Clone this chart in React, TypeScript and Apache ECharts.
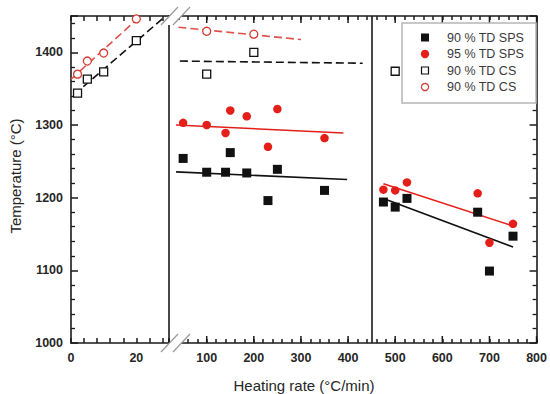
import React, { useEffect, useRef } from 'react';
import * as echarts from 'echarts';

const FONT = '"Liberation Sans", Arial, Helvetica, sans-serif';
const RED = '#e41f1a';
const RED_DASH = '#e0504a';
const RED_OPEN = '#d23a32';
const BLACK = '#111111';
const AX = '#1a1a1a';

// ---- tick labels ----
const leftXLabels = [0, 20];
const rightXLabels = [100, 200, 300, 400, 500, 600, 700, 800];
const yLabels = [1000, 1100, 1200, 1300, 1400];

// ---- left segment (0-30 °C/min) ----
const csLeftX = [2, 5, 10, 20];
const cs90SqLeft = [1344, 1363, 1373, 1416];
const cs90CircLeft = [1370, 1388, 1399, 1446];
const fitLeftBlackDash = [[1, 1342], [29, 1450]];
const fitLeftRedDash = [[0, 1363], [21.3, 1450]];

// ---- middle segment ----
const midX = [50, 100, 140, 150, 185, 230, 250, 350];
const sps90Mid = [1254, 1235, 1235, 1262, 1234, 1196, 1239, 1210];
const sps95Mid = [1303, 1300, 1289, 1320, 1312, 1270, 1322, 1282];
const csMidSqX = [100, 200, 500];
const cs90SqMid = [1370, 1400, 1374];
const csMidCircX = [100, 200];
const cs90CircMid = [1429, 1425];
const fitMidRed = [[35, 1300], [390, 1289]];
const fitMidBlack = [[35, 1235.5], [398, 1225]];
const fitMidBlackDash = [[43, 1388], [431, 1385]];
const fitMidRedDash = [[40, 1434.5], [300, 1417.6]];

// ---- right segment ----
const rightX = [475, 500, 525, 675, 700, 750];
const sps90Right = [1194, 1187, 1199, 1180, 1099, 1147];
const sps95Right = [1211, 1210, 1221, 1206, 1138, 1164];
const fitRightRed = [[475, 1219], [750, 1161]];
const fitRightBlack = [[475, 1199], [750, 1132]];
const dividerX = 450;

const legendItems = ['90 % TD SPS', '95 % TD SPS', '90 % TD CS', '90 % TD CS'];

const pts = (xs: number[], ys: number[]) => xs.map((x, i) => [x, ys[i]]);

function mkAxis(opts: any) {
  const { gridIndex, position, min, max, interval, len, labels, minor } = opts;
  return {
    type: 'value',
    gridIndex,
    position,
    min,
    max,
    interval,
    axisLine: { show: true, onZero: false, lineStyle: { color: AX, width: 1.6 } },
    axisTick: {
      show: !!len,
      inside: true,
      length: len || 0,
      lineStyle: { color: AX, width: 1.5 },
    },
    minorTick: minor
      ? { show: true, splitNumber: 5, length: 4, lineStyle: { color: AX, width: 1.3 } }
      : { show: false },
    axisLabel: labels
      ? {
          show: true,
          customValues: labels,
          formatter: (v: number) => String(v),
          margin: 8,
          color: '#262626',
          fontFamily: FONT,
          fontWeight: 'bold',
          fontSize: 12.5,
        }
      : { show: false },
    splitLine: { show: false },
    minorSplitLine: { show: false },
  };
}

export default function App() {
  const ref = useRef<HTMLDivElement>(null);
  useEffect(() => {
    if (!ref.current) return;
    const chart = echarts.init(ref.current, undefined, { renderer: 'svg' });

    const xAxis = [
      mkAxis({ gridIndex: 0, position: 'bottom', min: 0, max: 30, interval: 4, len: 5, labels: leftXLabels }),
      mkAxis({ gridIndex: 0, position: 'top', min: 0, max: 30, interval: 4, len: 5 }),
      mkAxis({ gridIndex: 1, position: 'bottom', min: 20, max: 800, interval: 20, len: 4, labels: rightXLabels }),
      mkAxis({ gridIndex: 1, position: 'top', min: 20, max: 800, interval: 20, len: 4 }),
    ];
    const yAxis = [
      mkAxis({ gridIndex: 0, position: 'left', min: 1000, max: 1450, interval: 100, len: 7, labels: yLabels, minor: true }),
      mkAxis({ gridIndex: 0, position: 'right', min: 1000, max: 1450 }),
      mkAxis({ gridIndex: 1, position: 'right', min: 1000, max: 1450, interval: 100, len: 7, minor: true }),
    ];

    const L = { xAxisIndex: 0, yAxisIndex: 0 };
    const R = { xAxisIndex: 2, yAxisIndex: 2 };

    const fit = (axes: any, data: number[][], color: string, dashed: boolean) => ({
      type: 'line', ...axes, data, symbol: 'none', silent: true,
      lineStyle: { color, width: 1.6, type: dashed ? [8, 4] : 'solid' }, z: 2,
    });
    const filledSq = (axes: any, data: number[][]) => ({
      type: 'scatter', ...axes, data, symbol: 'rect', symbolSize: 9,
      itemStyle: { color: BLACK, opacity: 1 }, z: 5,
    });
    const filledCirc = (axes: any, data: number[][]) => ({
      type: 'scatter', ...axes, data, symbol: 'circle', symbolSize: 8.5,
      itemStyle: { color: RED, opacity: 1 }, z: 5,
    });
    const openSq = (axes: any, data: number[][]) => ({
      type: 'scatter', ...axes, data, symbol: 'rect', symbolSize: 8,
      itemStyle: { color: '#ffffff', borderColor: BLACK, borderWidth: 1.3, opacity: 1 }, z: 5,
    });
    const openCirc = (axes: any, data: number[][]) => ({
      type: 'scatter', ...axes, data, symbol: 'circle', symbolSize: 8,
      itemStyle: { color: '#ffffff', borderColor: RED_OPEN, borderWidth: 1.3, opacity: 1 }, z: 5,
    });

    // longer major ticks (every 100) of the right segment, top and bottom
    const majorTicks = {
      type: 'custom', ...R, silent: true, clip: false, z: 3,
      data: rightXLabels.map((v) => [v, 1000]),
      renderItem: (_p: any, api: any) => {
        const v = api.value(0);
        const b = api.coord([v, 1000]);
        const t = api.coord([v, 1450]);
        const st = { stroke: AX, lineWidth: 1.5 };
        return {
          type: 'group',
          children: [
            { type: 'line', shape: { x1: b[0], y1: b[1], x2: b[0], y2: b[1] - 7 }, style: st },
            { type: 'line', shape: { x1: t[0], y1: t[1], x2: t[0], y2: t[1] + 7 }, style: st },
          ],
        };
      },
    };

    const series: any[] = [
      fit(L, fitLeftBlackDash, BLACK, true),
      fit(L, fitLeftRedDash, RED_DASH, true),
      openSq(L, pts(csLeftX, cs90SqLeft)),
      openCirc(L, pts(csLeftX, cs90CircLeft)),
      fit(R, fitMidRed, RED, false),
      fit(R, fitMidBlack, BLACK, false),
      fit(R, fitMidBlackDash, BLACK, true),
      fit(R, fitMidRedDash, RED_DASH, true),
      fit(R, fitRightRed, RED, false),
      fit(R, fitRightBlack, BLACK, false),
      {
        type: 'line', ...R, data: [], silent: true,
        markLine: {
          silent: true, symbol: 'none', animation: false, label: { show: false },
          lineStyle: { color: AX, width: 1.6, type: 'solid' },
          data: [{ xAxis: dividerX }],
        },
      },
      majorTicks,
      filledSq(R, pts(midX, sps90Mid).concat(pts(rightX, sps90Right))),
      filledCirc(R, pts(midX, sps95Mid).concat(pts(rightX, sps95Right))),
      openSq(R, pts(csMidSqX, cs90SqMid)),
      openCirc(R, pts(csMidCircX, cs90CircMid)),
    ];

    const breakMark = (yc: number) => {
      const x0 = 161;
      return [
        { type: 'polygon', z: 100, silent: true,
          shape: { points: [[x0, yc + 9], [x0 + 17, yc - 9], [x0 + 29, yc - 9], [x0 + 12, yc + 9]] },
          style: { fill: '#ffffff' } },
        { type: 'line', z: 101, silent: true,
          shape: { x1: x0, y1: yc + 9, x2: x0 + 17, y2: yc - 9 },
          style: { stroke: '#9a9a9a', lineWidth: 1.2 } },
        { type: 'line', z: 101, silent: true,
          shape: { x1: x0 + 12, y1: yc + 9, x2: x0 + 29, y2: yc - 9 },
          style: { stroke: '#9a9a9a', lineWidth: 1.2 } },
      ];
    };

    const legX = 402, legY = 23, legW = 134, legH = 80;
    const rowsY = [37.5, 54, 70.5, 87];
    const symX = 425;
    const legendGraphics: any[] = [
      { type: 'rect', z: 90, silent: true, shape: { x: legX, y: legY, width: legW, height: legH },
        style: { fill: '#ffffff', stroke: '#b5b5b5', lineWidth: 1.5 } },
      { type: 'rect', z: 91, silent: true, shape: { x: symX - 4, y: rowsY[0] - 4, width: 8, height: 8 },
        style: { fill: BLACK } },
      { type: 'circle', z: 91, silent: true, shape: { cx: symX, cy: rowsY[1], r: 4.2 },
        style: { fill: RED } },
      { type: 'rect', z: 91, silent: true, shape: { x: symX - 3.5, y: rowsY[2] - 3.5, width: 7, height: 7 },
        style: { fill: '#ffffff', stroke: BLACK, lineWidth: 1.2 } },
      { type: 'circle', z: 91, silent: true, shape: { cx: symX, cy: rowsY[3], r: 3.6 },
        style: { fill: '#ffffff', stroke: RED_OPEN, lineWidth: 1.2 } },
      ...legendItems.map((t, i) => ({
        type: 'text', z: 92, silent: true, x: 447, y: rowsY[i],
        style: { text: t, fill: '#3a3a3a', font: `12.5px ${FONT}`, verticalAlign: 'middle', align: 'left' },
      })),
    ];

    const titles: any[] = [
      { type: 'text', silent: true, x: 15, y: 176, rotation: Math.PI / 2,
        style: { text: 'Temperature (°C)', fill: '#262626', font: `15px ${FONT}`, align: 'center', verticalAlign: 'middle' } },
      { type: 'text', silent: true, x: 304, y: 385,
        style: { text: 'Heating rate (°C/min)', fill: '#262626', font: `15px ${FONT}`, align: 'center', verticalAlign: 'middle' } },
    ];

    chart.setOption({
      animation: false,
      textStyle: { fontFamily: FONT },
      grid: [
        { left: 71, top: 16, width: 98, height: 327, containLabel: false },
        { left: 169, top: 16, width: 369, height: 327, containLabel: false },
      ],
      xAxis, yAxis, series,
      graphic: [...breakMark(16), ...breakMark(343), ...legendGraphics, ...titles],
    });

    return () => chart.dispose();
  }, []);

  return (
    <div
      ref={ref}
      style={{ position: 'fixed', left: 0, top: 0, width: 550, height: 394, background: '#fff' }}
    />
  );
}
